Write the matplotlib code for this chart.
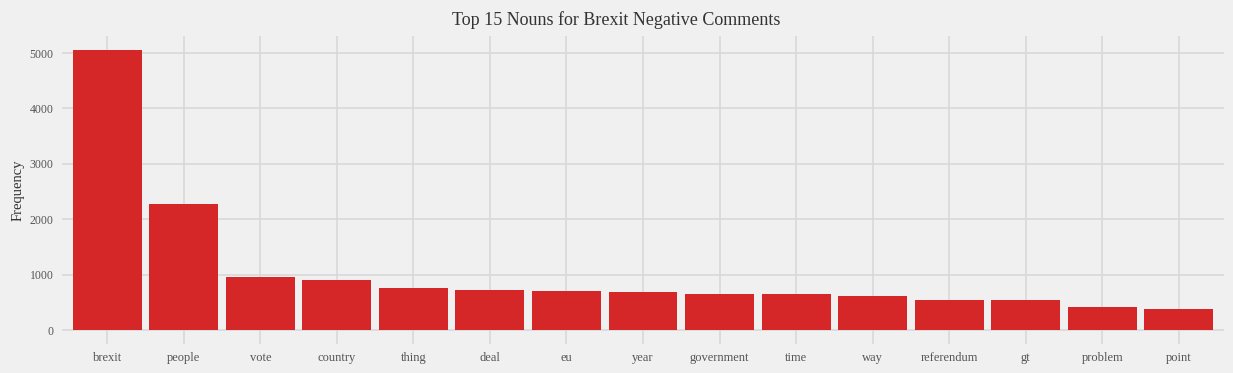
"""Top 15 nouns in negative Brexit comments, as a bar chart."""

import matplotlib

matplotlib.use("Agg")
from matplotlib import pyplot as plt  # noqa: E402

nouns = [
    "brexit", "people", "vote", "country", "thing", "deal", "eu", "year",
    "government", "time", "way", "referendum", "gt", "problem", "point",
]
frequency = [5054, 2274, 957, 903, 758, 722, 704, 686, 650, 650, 614, 542, 542, 415, 379]

BG = "#f0f0f0"
GRID = "#d8d8d8"
BAR = "#d62728"

plt.rcParams["font.family"] = ["Liberation Serif", "DejaVu Serif"]

fig = plt.figure(figsize=(12.33, 3.73), dpi=100, facecolor=BG)
ax = fig.add_axes([0.0503, 0.0777, 0.9424, 0.8258], facecolor=BG)

positions = range(len(nouns))
ax.bar(positions, frequency, width=0.9, color=BAR, zorder=2)

ax.set_xticks(list(positions))
ax.set_xticklabels(nouns, fontsize=9, color="#555555")
ax.set_yticks([0, 1000, 2000, 3000, 4000, 5000])
ax.tick_params(axis="y", labelsize=8.5, labelcolor="#555555", length=0, pad=6)
ax.tick_params(axis="x", length=0, pad=6)
ax.set_xlim(-0.59, len(nouns) - 1 + 0.59)
ax.set_ylim(-253, 5307)

ax.grid(True, color=GRID, linewidth=1.2, zorder=0)
ax.set_axisbelow(True)
for spine in ax.spines.values():
    spine.set_visible(False)

ax.set_ylabel("Frequency", fontsize=10.5, color="#333333", labelpad=4)
fig.suptitle("Top 15 Nouns for Brexit Negative Comments", fontsize=13, color="#333333", y=0.97)

fig.savefig("out.png", dpi=100, facecolor=BG)
